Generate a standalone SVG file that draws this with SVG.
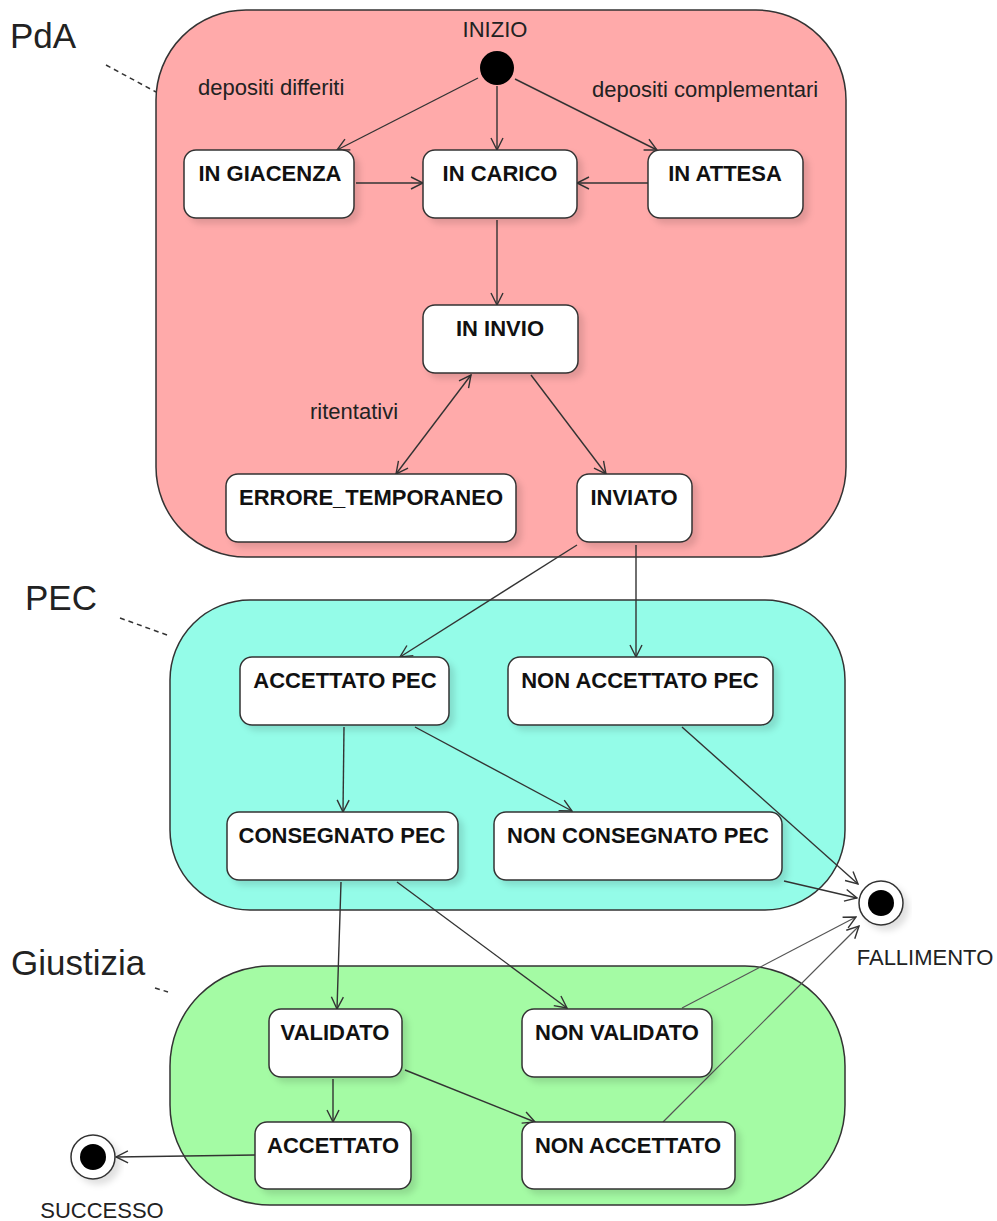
<svg xmlns="http://www.w3.org/2000/svg" width="997" height="1221" viewBox="0 0 997 1221">
<defs>
<style>
.cont{stroke:#333;stroke-width:1.5}
.node rect{fill:#fff;stroke:#333;stroke-width:1.5;filter:url(#sh)}
.nl{font-family:"Liberation Sans",Arial,sans-serif;font-weight:bold;font-size:22px;fill:#111;text-anchor:middle}
.lb{font-family:"Liberation Sans",Arial,sans-serif;font-size:22px;fill:#222}
.ttl{font-family:"Liberation Sans",Arial,sans-serif;font-size:35px;fill:#222}
.dash{stroke:#333;stroke-width:1.5;stroke-dasharray:5,4;fill:none}
#connectors line{stroke:#333;stroke-width:1.4;fill:none;marker-end:url(#arr)}
#connectors line.g{stroke:#555;stroke-width:1.2}
</style>
<filter id="sh" x="-20%" y="-20%" width="140%" height="150%">
<feDropShadow dx="5" dy="5" stdDeviation="3" flood-color="#000" flood-opacity="0.12"/>
</filter>
<marker id="arr" markerWidth="14" markerHeight="16" refX="13" refY="7" orient="auto" markerUnits="userSpaceOnUse">
<path d="M1,1 L13,7 L1,13" fill="none" stroke="#333" stroke-width="1.4"/>
</marker>
<marker id="arrs" markerWidth="14" markerHeight="16" refX="1" refY="7" orient="auto" markerUnits="userSpaceOnUse">
<path d="M13,1 L1,7 L13,13" fill="none" stroke="#333" stroke-width="1.4"/>
</marker>
</defs>
<rect width="997" height="1221" fill="#fff"/>

<g id="container-pda">
<rect class="cont" x="156" y="10" width="690" height="547" rx="90" ry="90" fill="#ffaaaa"/>
<text class="ttl" x="10" y="48">PdA</text>
<line class="dash" x1="106" y1="65" x2="156" y2="92"/>
</g>
<g id="container-pec">
<rect class="cont" x="170" y="600" width="675" height="310" rx="80" ry="80" fill="#94fce8"/>
<text class="ttl" x="25" y="610">PEC</text>
<line class="dash" x1="120" y1="618" x2="167" y2="635"/>
</g>
<g id="container-giustizia">
<rect class="cont" x="170" y="966" width="675" height="239" rx="100" ry="100" fill="#a4fba4"/>
<text class="ttl" x="11" y="975">Giustizia</text>
<line class="dash" x1="155" y1="988" x2="168" y2="992"/>
</g>

<g id="labels">
<text class="lb" x="198" y="95">depositi differiti</text>
<text class="lb" x="592" y="97">depositi complementari</text>
<text class="lb" x="310" y="419">ritentativi</text>
</g>

<g id="connectors">
<line x1="478" y1="78" x2="337" y2="150"/>
<line x1="497" y1="86" x2="497" y2="150"/>
<line x1="515" y1="79" x2="657" y2="150"/>
<line x1="356" y1="183" x2="423" y2="183"/>
<line x1="648" y1="183" x2="577" y2="183"/>
<line x1="497" y1="220" x2="497" y2="305"/>
<line x1="471" y1="375" x2="396" y2="474" marker-start="url(#arrs)"/>
<line x1="531" y1="375" x2="606" y2="474"/>
<line x1="577" y1="545" x2="400" y2="657"/>
<line x1="636" y1="545" x2="636" y2="657"/>
<line x1="344" y1="727" x2="343" y2="812"/>
<line x1="415" y1="727" x2="572" y2="811"/>
<line x1="682" y1="727" x2="858" y2="884"/>
<line x1="784" y1="881" x2="857" y2="898"/>
<line x1="341" y1="882" x2="337" y2="1009"/>
<line x1="397" y1="882" x2="567" y2="1008"/>
<line x1="333" y1="1079" x2="333" y2="1122"/>
<line x1="405" y1="1070" x2="535" y2="1122"/>
<line class="g" x1="682" y1="1008" x2="856" y2="917"/>
<line class="g" x1="663" y1="1122" x2="859" y2="926"/>
<line x1="255" y1="1155" x2="116" y2="1157"/>
</g>

<g id="start">
<text class="lb" x="495" y="37" text-anchor="middle">INIZIO</text>
<circle cx="497" cy="68" r="17" fill="#000"/>
</g>

<g id="in-giacenza" class="node"><rect x="184" y="150" width="170" height="68" rx="12"/><text class="nl" x="270" y="181">IN GIACENZA</text></g>
<g id="in-carico" class="node"><rect x="423" y="150" width="154" height="68" rx="12"/><text class="nl" x="500" y="181">IN CARICO</text></g>
<g id="in-attesa" class="node"><rect x="648" y="150" width="155" height="68" rx="12"/><text class="nl" x="725" y="181">IN ATTESA</text></g>
<g id="in-invio" class="node"><rect x="423" y="305" width="155" height="68" rx="12"/><text class="nl" x="500" y="336">IN INVIO</text></g>
<g id="errore-temporaneo" class="node"><rect x="226" y="474" width="290" height="68" rx="12"/><text class="nl" x="371" y="505">ERRORE_TEMPORANEO</text></g>
<g id="inviato" class="node"><rect x="577" y="474" width="115" height="68" rx="12"/><text class="nl" x="634" y="505">INVIATO</text></g>

<g id="accettato-pec" class="node"><rect x="240" y="657" width="209" height="68" rx="12"/><text class="nl" x="345" y="688">ACCETTATO PEC</text></g>
<g id="non-accettato-pec" class="node"><rect x="508" y="657" width="265" height="68" rx="12"/><text class="nl" x="640" y="688">NON ACCETTATO PEC</text></g>
<g id="consegnato-pec" class="node"><rect x="227" y="812" width="231" height="68" rx="12"/><text class="nl" x="342" y="843">CONSEGNATO PEC</text></g>
<g id="non-consegnato-pec" class="node"><rect x="494" y="812" width="288" height="68" rx="12"/><text class="nl" x="638" y="843">NON CONSEGNATO PEC</text></g>

<g id="validato" class="node"><rect x="269" y="1009" width="133" height="68" rx="12"/><text class="nl" x="335" y="1040">VALIDATO</text></g>
<g id="non-validato" class="node"><rect x="522" y="1009" width="190" height="68" rx="12"/><text class="nl" x="617" y="1040">NON VALIDATO</text></g>
<g id="accettato" class="node"><rect x="255" y="1122" width="156" height="67" rx="12"/><text class="nl" x="333" y="1153">ACCETTATO</text></g>
<g id="non-accettato" class="node"><rect x="522" y="1122" width="213" height="67" rx="12"/><text class="nl" x="628" y="1153">NON ACCETTATO</text></g>

<g id="fallimento">
<circle cx="881" cy="903" r="22" fill="#fff" stroke="#333" stroke-width="1.5" filter="url(#sh)"/>
<circle cx="881" cy="903" r="13" fill="#000"/>
<text class="lb" x="925" y="965" text-anchor="middle">FALLIMENTO</text>
</g>
<g id="successo">
<circle cx="93" cy="1157" r="22" fill="#fff" stroke="#333" stroke-width="1.5" filter="url(#sh)"/>
<circle cx="93" cy="1157" r="13" fill="#000"/>
<text class="lb" x="102" y="1218" text-anchor="middle">SUCCESSO</text>
</g>
</svg>
